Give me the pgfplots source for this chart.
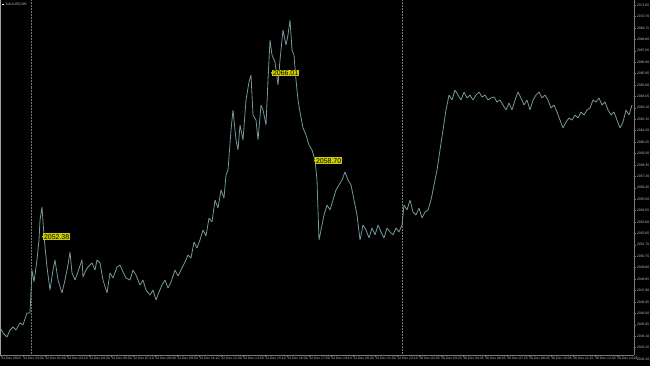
\documentclass[border=0pt]{standalone}
\usepackage{fontspec}
\setmainfont{Liberation Sans}
\usepackage{pgfplots}
\pgfplotsset{compat=1.18}
\definecolor{barc}{RGB}{118,152,152}
\definecolor{axgray}{RGB}{120,120,120}
\definecolor{lbl}{RGB}{190,190,190}
\definecolor{tagy}{RGB}{205,205,0}
\begin{document}
\begin{tikzpicture}[x=1bp,y=1bp]
\path[use as bounding box, fill=black] (0,-11) rectangle (650,355);
\begin{axis}[
  at={(0,0)}, anchor=south west,
  scale only axis, width=634bp, height=355bp,
  xmin=0, xmax=634, ymin=2042.53, ymax=2072.07,
  axis x line*=bottom, axis y line*=right,
  axis line style={axgray, line width=0.5pt, -},
  tick align=outside, major tick length=2bp,
  tick style={axgray, line width=0.4pt},
  clip mode=individual,
  /pgf/number format/assume math mode=true,
  xtick={1,23,45,67,89,111,133,155,177,199,221,243,265,287,309,331,353,375,397,419,441,463,485,507,529,551,573,595,617},
  xticklabels={21 Dec 2023,21 Dec 23:30,22 Dec 01:50,22 Dec 03:10,22 Dec 04:30,22 Dec 05:50,22 Dec 07:10,22 Dec 08:30,22 Dec 09:50,22 Dec 11:10,22 Dec 12:30,22 Dec 13:50,22 Dec 15:10,22 Dec 16:30,22 Dec 17:50,22 Dec 19:10,22 Dec 20:30,22 Dec 21:50,22 Dec 23:10,26 Dec 02:05,26 Dec 03:25,26 Dec 04:45,26 Dec 06:05,26 Dec 07:25,26 Dec 08:45,26 Dec 10:05,26 Dec 11:25,26 Dec 12:45,26 Dec 14:05},
  xticklabel style={anchor=north west, xshift=-0.5bp, yshift=1bp, inner sep=0.8bp, text=lbl, font=\fontsize{3.4}{4}\selectfont},
  ytick={2043.15,2044.10,2045.05,2046.00,2046.95,2047.90,2048.85,2049.80,2050.75,2051.70,2052.65,2053.60,2054.55,2055.50,2056.45,2057.40,2058.35,2059.30,2060.25,2061.20,2062.15,2063.10,2064.05,2065.00,2065.95,2066.90,2067.85,2068.80,2069.75,2070.70,2071.65},
  yticklabels={2043.15,2044.10,2045.05,2046.00,2046.95,2047.90,2048.85,2049.80,2050.75,2051.70,2052.65,2053.60,2054.55,2055.50,2056.45,2057.40,2058.35,2059.30,2060.25,2061.20,2062.15,2063.10,2064.05,2065.00,2065.95,2066.90,2067.85,2068.80,2069.75,2070.70,2071.65},
  yticklabel style={anchor=west, inner sep=0.8bp, text=lbl, font=\fontsize{3.4}{4}\selectfont},
]
% day separators
\addplot[axgray, densely dotted, line width=0.5pt] coordinates {(31,2042.53) (31,2072.07)};
\addplot[axgray, densely dotted, line width=0.5pt] coordinates {(402,2042.53) (402,2072.07)};
% left frame line
\addplot[axgray!70, line width=0.4pt] coordinates {(0.3,2042.53) (0.3,2072.07)};
% price
\addplot[barc, line width=0.8pt, line join=bevel] coordinates {
(0,2044.86)(3,2044.36)(7,2044.03)(10,2044.61)(13,2044.86)(16,2044.61)(20,2045.20)(23,2045.03)(27,2046.03)(30,2046.03)
(32,2049.60)(34,2048.61)(37,2050.44)(39,2052.10)(40,2053.76)(42,2054.85)(44,2052.43)(47,2049.85)(50,2047.94)(53,2049.60)
(55,2050.44)(58,2048.77)(62,2047.69)(65,2048.77)(68,2050.02)(70,2051.10)(72,2049.36)(75,2048.77)(78,2049.44)(82,2050.44)
(83,2049.02)(86,2049.60)(88,2049.85)(92,2050.19)(95,2049.60)(97,2050.44)(100,2050.19)(103,2048.77)(107,2047.69)(110,2049.36)
(113,2048.94)(117,2049.85)(120,2050.02)(123,2049.44)(126,2048.94)(130,2048.77)(133,2049.60)(136,2049.19)(140,2048.36)(143,2048.77)
(146,2047.94)(150,2047.52)(153,2047.94)(156,2047.11)(159,2047.77)(162,2048.36)(165,2048.77)(168,2048.11)(171,2048.61)(175,2049.60)
(178,2049.11)(182,2049.77)(185,2050.27)(188,2050.85)(191,2050.60)(194,2051.93)(197,2051.44)(200,2052.10)(203,2052.93)(206,2052.43)
(209,2053.93)(212,2053.60)(215,2055.43)(218,2054.76)(221,2056.26)(224,2055.60)(226,2057.51)(228,2057.92)(231,2061.25)(233,2062.92)
(236,2060.42)(238,2059.59)(240,2061.67)(243,2060.42)(246,2063.75)(249,2065.25)(251,2065.83)(253,2062.50)(256,2062.08)(258,2060.42)
(261,2063.33)(263,2062.92)(266,2061.67)(268,2065.41)(270,2068.74)(272,2067.49)(275,2066.91)(278,2065.00)(280,2067.08)(283,2069.57)
(286,2068.32)(288,2069.16)(290,2070.40)(292,2067.91)(294,2067.49)(296,2065.41)(298,2063.75)(300,2062.75)(303,2061.42)(306,2060.84)
(309,2060.00)(312,2059.59)(315,2058.76)(317,2057.09)(319,2052.10)(321,2052.93)(324,2054.18)(327,2055.01)(330,2054.60)(333,2055.43)
(336,2056.26)(339,2056.68)(342,2057.09)(345,2057.76)(348,2057.09)(351,2056.68)(354,2055.43)(357,2054.18)(360,2052.10)(363,2053.35)
(366,2052.93)(369,2052.27)(372,2053.10)(375,2052.52)(378,2053.35)(381,2052.77)(384,2052.27)(387,2053.10)(390,2052.77)(393,2052.52)
(396,2053.10)(399,2052.77)(402,2053.35)(404,2055.01)(407,2054.60)(410,2055.43)(413,2054.43)(416,2054.18)(419,2054.76)(422,2053.93)
(425,2054.43)(428,2054.60)(431,2055.43)(434,2056.68)(437,2057.92)(440,2059.59)(443,2061.25)(446,2062.92)(449,2064.16)(452,2063.75)
(455,2064.58)(458,2064.16)(461,2063.75)(464,2064.41)(467,2063.92)(470,2064.16)(473,2063.75)(476,2064.16)(479,2064.41)(482,2064.00)
(485,2064.16)(488,2063.75)(491,2063.92)(494,2064.00)(497,2063.58)(500,2063.75)(503,2063.33)(506,2062.92)(509,2063.50)(512,2062.92)
(515,2063.75)(518,2064.41)(521,2063.92)(524,2063.33)(527,2063.75)(530,2062.92)(533,2063.75)(536,2064.16)(539,2064.41)(542,2063.92)
(545,2064.16)(548,2063.75)(551,2063.08)(554,2063.33)(557,2062.75)(560,2062.08)(563,2061.42)(566,2061.92)(569,2062.25)(572,2062.08)
(575,2062.50)(578,2062.25)(581,2062.75)(584,2062.50)(587,2062.92)(590,2063.08)(593,2063.75)(596,2063.58)(599,2063.92)(602,2063.33)
(605,2063.58)(608,2062.92)(611,2062.50)(614,2062.75)(617,2062.08)(620,2061.42)(623,2061.92)(626,2062.92)(629,2062.50)(632,2063.33)
};
% price tags
\addplot[only marks, mark=*, mark size=0.7pt, tagy,
  nodes near coords, point meta=explicit symbolic,
  every node near coord/.append style={anchor=west, fill=tagy, text=black, inner sep=0.8bp, font=\fontsize{7}{7.5}\selectfont}]
  coordinates {(43,2052.38) [2052.38] (272,2066.01) [2066.01] (315,2058.70) [2058.70]};
\node[anchor=west, inner sep=0.8bp, text=lbl, font=\fontsize{3.4}{4}\selectfont, xshift=2bp] at (axis cs:634,2042.20) {2042.20};
\node[anchor=north west, inner sep=0pt, text=lbl, font=\fontsize{3.6}{4}\selectfont] at (rel axis cs:0,1) [xshift=2bp, yshift=-2.5bp] {\textcolor{white}{\rule{2bp}{1.6bp}}\hspace{1.5bp}XAUUSD,M5};
\end{axis}
\end{tikzpicture}
\end{document}
